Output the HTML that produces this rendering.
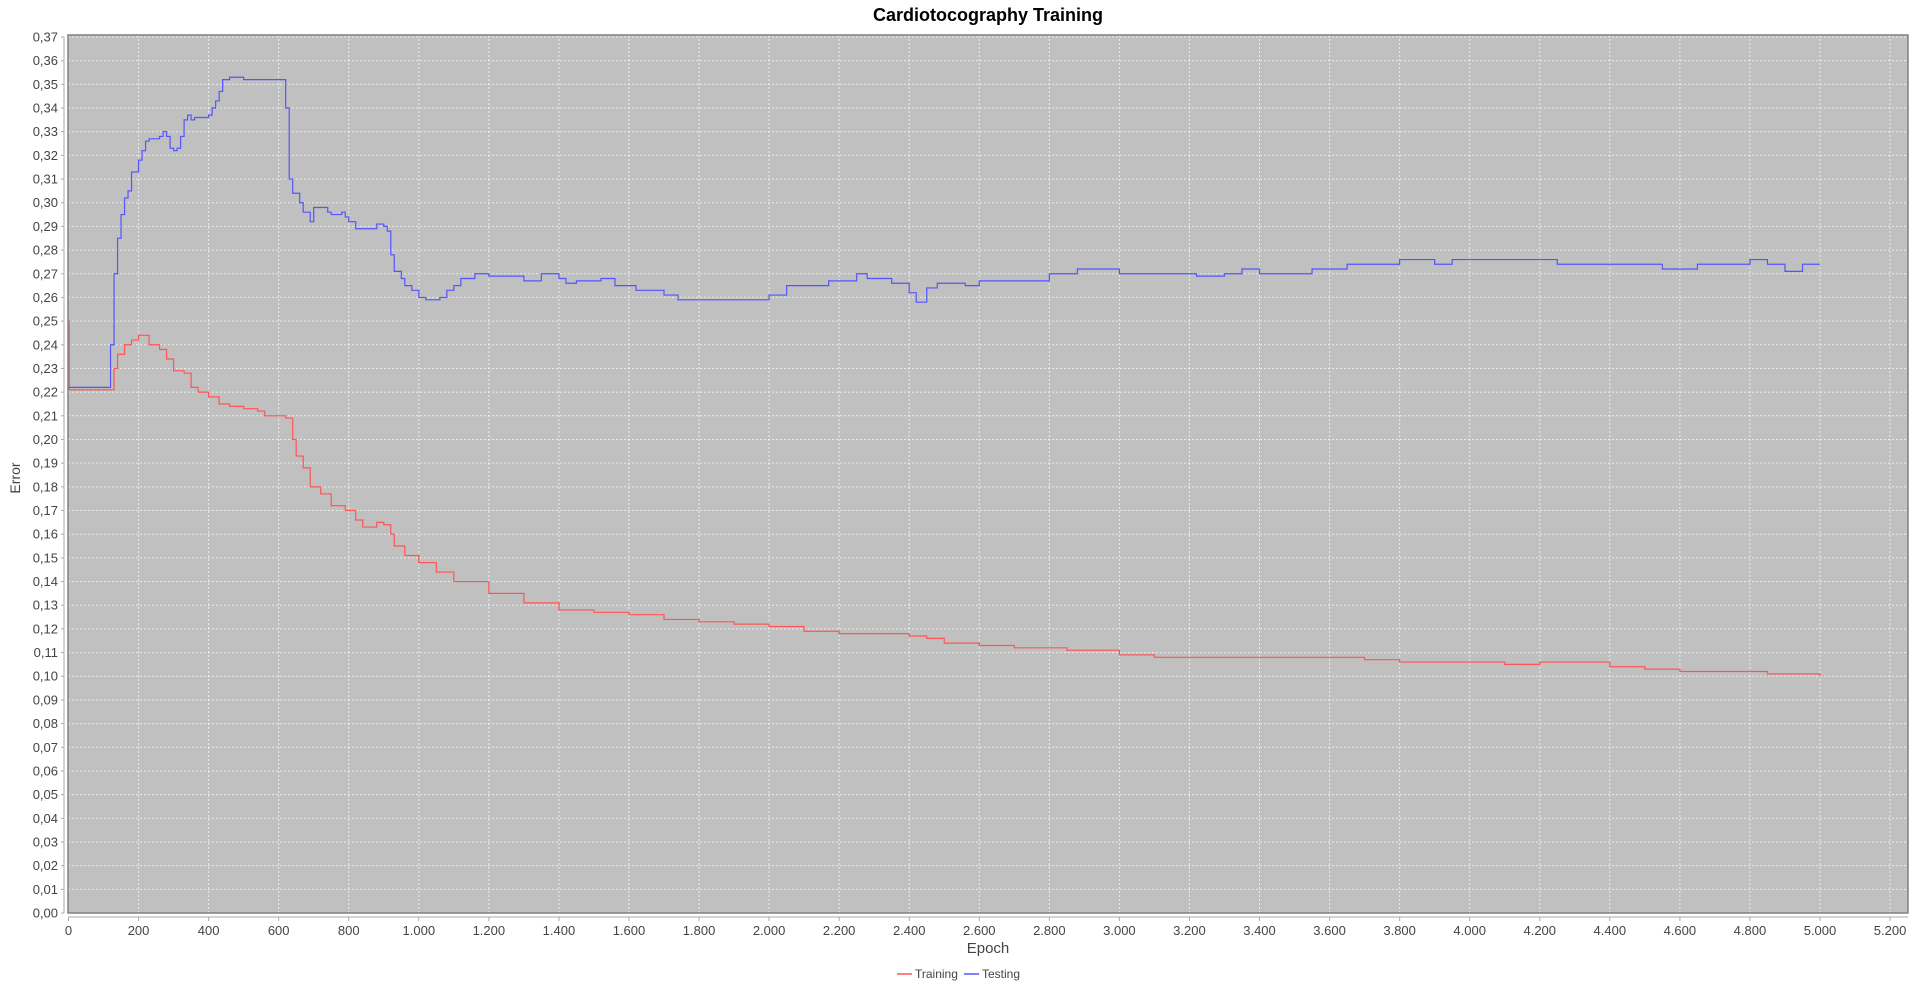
<!DOCTYPE html>
<html><head><meta charset="utf-8"><style>
html,body{margin:0;padding:0;background:#fff;}
svg{display:block;font-family:"Liberation Sans","DejaVu Sans",sans-serif;}
</style></head><body>
<svg id="chart" width="1920" height="986" xmlns="http://www.w3.org/2000/svg">
<text x="988" y="21" text-anchor="middle" font-size="18" font-weight="bold" fill="#000">Cardiotocography Training</text>
<rect x="68" y="35" width="1840" height="878" fill="#c0c0c0"/>
<g id="grid"></g>
<g id="yaxis"></g>
<g id="xaxis"></g>
<g id="series"></g>
<rect x="68" y="35" width="1840" height="878" fill="none" stroke="#808080" stroke-width="1.5"/>
<text x="20" y="478" transform="rotate(-90 20 478)" text-anchor="middle" font-size="14" fill="#444">Error</text>
<text x="988" y="953" text-anchor="middle" font-size="15" fill="#444">Epoch</text>
<g>
<g><line x1="897" y1="974" x2="912" y2="974" stroke="#ff5555" stroke-width="1.5"/><text x="915" y="978" font-size="12" fill="#444">Training</text></g>
<g><line x1="964" y1="974" x2="979" y2="974" stroke="#5555ff" stroke-width="1.5"/><text x="982" y="978" font-size="12" fill="#444">Testing</text></g>
</g>
</svg>
<script>
const yTicks=[0,0.01,0.02,0.03,0.04,0.05,0.06,0.07,0.08,0.09,0.10,0.11,0.12,0.13,0.14,0.15,0.16,0.17,0.18,0.19,0.20,0.21,0.22,0.23,0.24,0.25,0.26,0.27,0.28,0.29,0.30,0.31,0.32,0.33,0.34,0.35,0.36,0.37];
const xTicks=[0,200,400,600,800,1000,1200,1400,1600,1800,2000,2200,2400,2600,2800,3000,3200,3400,3600,3800,4000,4200,4400,4600,4800,5000,5200];
const testEpochs=[0,110,120,130,140,150,160,170,180,200,210,220,230,260,270,280,290,300,310,320,330,340,350,360,400,410,420,430,440,460,490,500,610,620,630,640,660,670,690,700,730,740,750,780,790,800,820,870,880,900,910,920,930,950,960,980,1000,1020,1060,1080,1100,1120,1160,1200,1300,1350,1400,1420,1450,1520,1560,1620,1700,1740,2000,2050,2170,2250,2280,2350,2400,2420,2450,2480,2560,2600,2800,2880,3000,3220,3300,3350,3400,3550,3650,3800,3900,3950,4200,4250,4550,4650,4800,4850,4900,4950,5000];
const testValues=[0.222,0.222,0.24,0.27,0.285,0.295,0.302,0.305,0.313,0.318,0.322,0.326,0.327,0.328,0.330,0.328,0.323,0.322,0.323,0.328,0.335,0.337,0.335,0.336,0.337,0.340,0.343,0.347,0.352,0.353,0.353,0.352,0.352,0.34,0.31,0.304,0.300,0.296,0.292,0.298,0.298,0.296,0.295,0.296,0.294,0.292,0.289,0.289,0.291,0.290,0.288,0.278,0.271,0.268,0.265,0.263,0.260,0.259,0.260,0.263,0.265,0.268,0.270,0.269,0.267,0.270,0.268,0.266,0.267,0.268,0.265,0.263,0.261,0.259,0.261,0.265,0.267,0.270,0.268,0.266,0.262,0.258,0.264,0.266,0.265,0.267,0.270,0.272,0.270,0.269,0.270,0.272,0.270,0.272,0.274,0.276,0.274,0.276,0.276,0.274,0.272,0.274,0.276,0.274,0.271,0.274,0.274];
const trainEpochs=[0,2,115,130,140,160,180,200,220,230,260,280,300,330,350,370,400,430,460,500,540,560,600,620,640,650,670,690,720,750,790,820,840,870,880,900,920,930,960,1000,1050,1100,1200,1300,1400,1500,1600,1700,1800,1900,2000,2100,2200,2400,2450,2500,2600,2700,2850,3000,3100,3300,3600,3700,3800,4100,4200,4400,4500,4600,4850,5000];
const trainValues=[0.25,0.221,0.221,0.230,0.236,0.240,0.242,0.244,0.244,0.240,0.238,0.234,0.229,0.228,0.222,0.220,0.218,0.215,0.214,0.213,0.212,0.210,0.210,0.209,0.200,0.193,0.188,0.180,0.177,0.172,0.170,0.166,0.163,0.163,0.165,0.164,0.160,0.155,0.151,0.148,0.144,0.140,0.135,0.131,0.128,0.127,0.126,0.124,0.123,0.122,0.121,0.119,0.118,0.117,0.116,0.114,0.113,0.112,0.111,0.109,0.108,0.108,0.108,0.107,0.106,0.105,0.106,0.104,0.103,0.102,0.101,0.100];

const NS="http://www.w3.org/2000/svg";
const X0=68.5, XS=0.3503, Y0=913, YS=(913-37)/0.37;
function xs(e){return X0+e*XS;}
function ys(v){return Y0-v*YS;}
function mk(tag,attrs,parent){const el=document.createElementNS(NS,tag);for(const k in attrs)el.setAttribute(k,attrs[k]);parent.appendChild(el);return el;}
const grid=document.getElementById('grid'),yax=document.getElementById('yaxis'),xax=document.getElementById('xaxis'),ser=document.getElementById('series');
function fmtY(v){return v.toFixed(2).replace('.',',');}
function fmtX(v){return v>=1000?Math.floor(v/1000)+'.'+String(v%1000).padStart(3,'0'):String(v);}
mk('line',{x1:64,y1:ys(0.37),x2:64,y2:Y0,stroke:'#aaa'},yax);
mk('line',{x1:X0,y1:917,x2:1908,y2:917,stroke:'#aaa'},xax);
yTicks.forEach(v=>{
  const y=ys(v);
  if(v>0){const g=mk('line',{x1:68,y1:y,x2:1908,y2:y,stroke:'#fff','stroke-dasharray':'2,2','stroke-width':1,opacity:0.7},grid);
  
  }
  mk('line',{x1:61,y1:y,x2:64,y2:y,stroke:'#aaa'},yax);
  const t=mk('text',{x:58,y:y+4.5,'text-anchor':'end','font-size':13,fill:'#444'},yax);
  t.textContent=fmtY(v);
  
  
});
xTicks.forEach(v=>{
  const x=xs(v);
  if(v>0){const g=mk('line',{x1:x,y1:35,x2:x,y2:913,stroke:'#fff','stroke-dasharray':'2,2','stroke-width':1,opacity:0.7},grid);
  
  }
  mk('line',{x1:x,y1:917,x2:x,y2:921,stroke:'#aaa'},xax);
  const t=mk('text',{x:x,y:935,'text-anchor':'middle','font-size':13,fill:'#444'},xax);
  t.textContent=fmtX(v);
  
  
});
function stepPath(es,vs){let d='M'+xs(es[0])+','+ys(vs[0]);for(let i=1;i<es.length;i++){d+=' L'+xs(es[i])+','+ys(vs[i-1])+' L'+xs(es[i])+','+ys(vs[i]);}return d;}
const pTrain=mk('path',{d:stepPath(trainEpochs,trainValues),fill:'none',stroke:'#ff5555','stroke-width':1.2},ser);


const pTest=mk('path',{d:stepPath(testEpochs,testValues),fill:'none',stroke:'#5555ff','stroke-width':1.2},ser);


</script>
</body></html>
